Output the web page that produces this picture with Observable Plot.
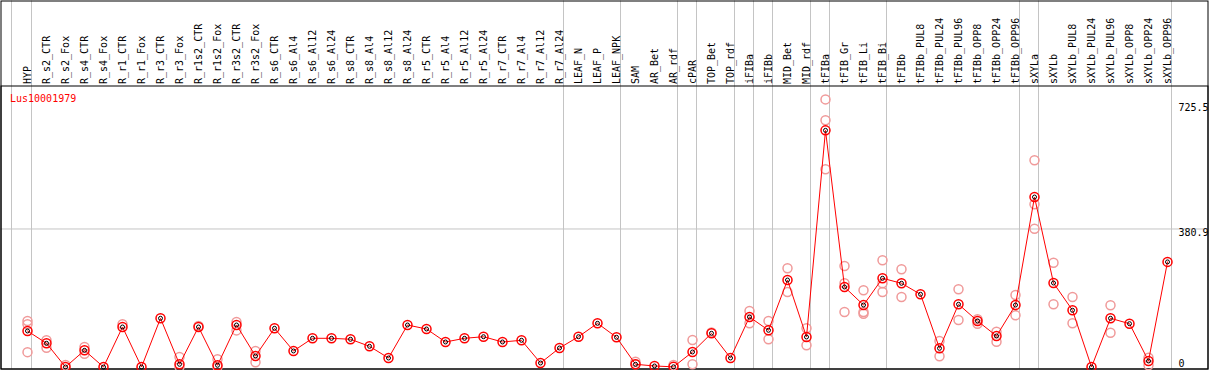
<!DOCTYPE html>
<html><head><meta charset="utf-8">
<script src="https://cdn.jsdelivr.net/npm/d3@7"></script>
<script src="https://cdn.jsdelivr.net/npm/@observablehq/plot@0.6"></script>
<style>html,body{margin:0;padding:0;background:#fff} svg{display:block}</style>
</head><body><div id="chart"></div>
<script>
const geneId = "Lus10001979";
const categories = ["HYP","R_s2_CTR","R_s2_Fox","R_s4_CTR","R_s4_Fox","R_r1_CTR","R_r1_Fox","R_r3_CTR","R_r3_Fox","R_r1s2_CTR","R_r1s2_Fox","R_r3s2_CTR","R_r3s2_Fox","R_s6_CTR","R_s6_Al4","R_s6_Al12","R_s6_Al24","R_s8_CTR","R_s8_Al4","R_s8_Al12","R_s8_Al24","R_r5_CTR","R_r5_Al4","R_r5_Al12","R_r5_Al24","R_r7_CTR","R_r7_Al4","R_r7_Al12","R_r7_Al24","LEAF_N","LEAF_P","LEAF_NPK","SAM","AR_Bet","AR_rdf","cPAR","TOP_Bet","TOP_rdf","iFIBa","iFIBb","MID_Bet","MID_rdf","tFIBa","tFIB_Gr","tFIB_Li","tFIB_Bi","tFIBb","tFIBb_PUL8","tFIBb_PUL24","tFIBb_PUL96","tFIBb_OPP8","tFIBb_OPP24","tFIBb_OPP96","sXYLa","sXYLb","sXYLb_PUL8","sXYLb_PUL24","sXYLb_PUL96","sXYLb_OPP8","sXYLb_OPP24","sXYLb_OPP96"];
const means = [99.4,65.4,0,46,0,110.4,0,134.4,7.5,110.4,4.7,115.9,30.4,106.8,44.2,79.2,79.2,76.5,57.1,24.8,115.9,104.9,69,79.2,83.6,69,73.7,11,52.4,83.6,120.6,82,7.5,2.8,0.5,41.4,93,24.8,138,101.3,240,82.8,653,220.8,171,244.8,231,200.6,51.6,173,127,85.6,171,469,231.8,156.5,0,134.4,119.5,16.6,290];
const replicates = [[127,118,41],[73.7,53.3],[5.5],[55,36.8],[],[117.8],[],[],[27.6,0],[113],[21.2,0],[124,101],[44,13],
  [],[],[],[],[],[],[],[],[],[],[],[],[],[],[],[],[],[],[],
  [14.6,7.5],[],[5.5],[74.5,7.5],[95],[],[154.6,120.6],[127,76.5],[272.4,207],[106.8,59.9],[738.5,680.9,545.7],[278.8,231,151.8],[211.7,151.8,147.1],[294.5,231,207],[269.7,193.2],[],[71.8,29.5],[214.5,129.7],[131.7,119.5],[97.4,69.8],[198.7,142.7],[570.5,449,381.7],[287.9,173],[193.2,120.6],[],[170.3,94.7],[],[25.7,4.7],[]];
const groupEnds = ["HYP","R_r7_Al24","LEAF_NPK","AR_rdf","cPAR","TOP_rdf","iFIBa","iFIBb","MID_rdf","tFIBa","tFIB_Bi","tFIBb_OPP96","sXYLa","sXYLb_OPP96"];
const yTicks = [0, 380.9, 725.5];

const meanRows = categories.map((c, i) => ({cat: c, value: means[i]}));
const repRows = categories.flatMap((c, i) => replicates[i].map(v => ({cat: c, value: v})));
const grey = "#c4c4c4";

const chart = Plot.plot({
  width: 1209, height: 370,
  marginTop: 85.5, marginBottom: 1.5, marginLeft: 0.5, marginRight: 1.5,
  x: {type: "point", domain: categories, range: [26.7, 1166.7], padding: 0, axis: null},
  y: {domain: [0, 725.5], range: [366.5, 103.6], axis: null},
  style: {fontFamily: "'DejaVu Sans Mono', monospace", fontSize: "10px", background: "#fff", overflow: "visible"},
  marks: [
    Plot.ruleY([380.9], {stroke: grey}),
    Plot.ruleX(groupEnds, {x: d => d, dx: 4, stroke: grey, insetTop: -85}),
    Plot.ruleX([categories[0]], {x: d => d, dx: -16, stroke: grey, insetTop: -85}),
    Plot.frame({stroke: "#000", insetTop: -85}),
    Plot.frame({stroke: "#000"}),
    Plot.text(categories, {x: d => d, text: d => d, frameAnchor: "top", rotate: -90, textAnchor: "start", dy: -2, dx: -4, fill: "#000"}),
    Plot.text([geneId], {text: d => d, frameAnchor: "top-left", dx: 9, dy: 8.5, lineAnchor: "top", textAnchor: "start", fill: "red"}),
    Plot.text(yTicks.filter(v => v > 0), {y: d => d, text: d => String(d), frameAnchor: "right", dx: -29.5, textAnchor: "start", lineAnchor: "top", fill: "#000"}),
    Plot.text(yTicks.filter(v => v === 0), {y: d => d, text: d => String(d), frameAnchor: "right", dx: -29.5, dy: 0, textAnchor: "start", lineAnchor: "bottom", fill: "#000"}),
    Plot.dot(repRows, {x: "cat", y: "value", r: 4.5, stroke: "#f09a9a", strokeWidth: 1.5, fill: "none"}),
    Plot.line(meanRows, {x: "cat", y: "value", stroke: "red", strokeWidth: 1}),
    Plot.dot(meanRows, {x: "cat", y: "value", r: 4.5, stroke: "red", strokeWidth: 1.5, fill: "none"}),
    Plot.dot(meanRows, {x: "cat", y: "value", r: 2, stroke: "#000", strokeWidth: 1, fill: "none"})
  ]
});
document.getElementById("chart").appendChild(chart);
</script>
</body></html>
